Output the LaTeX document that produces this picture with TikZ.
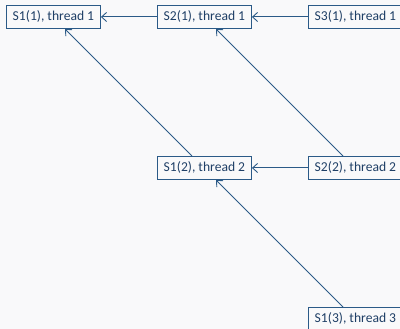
\documentclass[tikz,border=0pt]{standalone}
\usepackage{fontspec}
\setmainfont{Carlito}
\usetikzlibrary{arrows.meta}
\definecolor{bg}{HTML}{F9F9FA}
\definecolor{ln}{HTML}{2B5A87}
\definecolor{tx}{HTML}{1F3F66}
\tikzset{
  box/.style={draw=ln, line width=0.9pt, fill=bg, text=tx, minimum width=94pt, minimum height=23pt, inner sep=0pt, anchor=north west, font=\fontsize{13.6pt}{15pt}\selectfont},
  arr/.style={draw=ln, line width=0.9pt, -{Straight Barb[length=5pt,width=9pt]}}
}
\begin{document}
\begin{tikzpicture}[x=1pt,y=-1pt]
\clip (0,0) rectangle (400,329);
\fill[bg] (0,0) rectangle (400,329);
\node[box] (s11) at (6,5) {S1(1), thread 1};
\node[box] (s21) at (157,5) {S2(1), thread 1};
\node[box] (s31) at (308,5) {S3(1), thread 1};
\node[box] (s12) at (157,156) {S1(2), thread 2};
\node[box] (s22) at (308,156) {S2(2), thread 2};
\node[box] (s13) at (308,307) {S1(3), thread 3};
\draw[arr] (s21.west) -- (s11.east);
\draw[arr] (s31.west) -- (s21.east);
\draw[arr] (s22.west) -- (s12.east);
\draw[arr] ([xshift=35pt]s12.north west) -- ([xshift=59pt]s11.south west);
\draw[arr] ([xshift=35pt]s22.north west) -- ([xshift=59pt]s21.south west);
\draw[arr] ([xshift=35pt]s13.north west) -- ([xshift=59pt]s12.south west);
\end{tikzpicture}
\end{document}
